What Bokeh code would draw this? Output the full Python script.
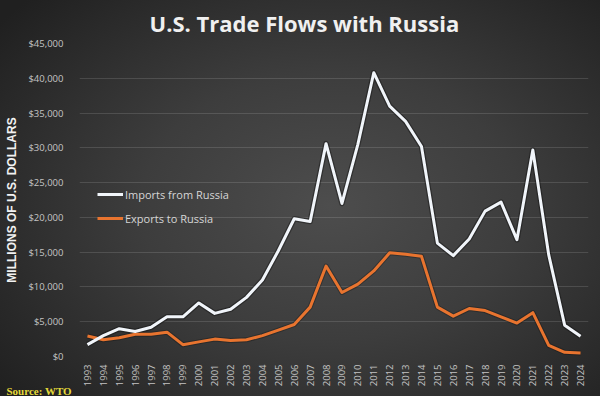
import math
from bokeh.plotting import figure
from bokeh.models import Legend, LegendItem, NumeralTickFormatter, FixedTicker, Range1d, Title
from bokeh.embed import file_html
from bokeh.resources import INLINE

years = ["1993", "1994", "1995", "1996", "1997", "1998", "1999", "2000", "2001", "2002",
         "2003", "2004", "2005", "2006", "2007", "2008", "2009", "2010", "2011", "2012",
         "2013", "2014", "2015", "2016", "2017", "2018", "2019", "2020", "2021", "2022",
         "2023", "2024"]
imports_from_russia = [1700, 3000, 4000, 3600, 4200, 5700, 5700, 7700, 6200, 6800,
                       8500, 11000, 15200, 19800, 19400, 30600, 22000, 30500, 40800, 36000,
                       33800, 30200, 16300, 14500, 16900, 20900, 22200, 16800, 29700, 14600,
                       4500, 2900]
exports_to_russia = [2950, 2400, 2700, 3200, 3200, 3500, 1700, 2100, 2500, 2300,
                     2400, 3000, 3800, 4600, 7100, 13000, 9200, 10400, 12300, 14900,
                     14700, 14400, 7100, 5800, 6900, 6600, 5700, 4800, 6300, 1600,
                     600, 500]
y_ticks = [0, 5000, 10000, 15000, 20000, 25000, 30000, 35000, 40000, 45000]

W, H = 600, 396
BL, BR, BT, BB = 79, 12, 42, 40

p = figure(x_range=years, y_range=Range1d(0, 45000), width=W, height=H,
           output_backend="svg", toolbar_location=None,
           min_border_left=BL, min_border_right=BR, min_border_top=BT, min_border_bottom=BB)
p.background_fill_alpha = 0
p.border_fill_alpha = 0
p.outline_line_color = None
p.x_range.range_padding = 0
p.styles = {"background": "radial-gradient(ellipse 70% 75% at 55% 52%, #4d4d4d 0%, #3d3d3d 45%, #282828 85%, #202020 100%)"}

p.title.text = "U.S. Trade Flows with Russia"
p.title.align = "left"
p.title.offset = 70
p.title.text_font = "Open Sans"
p.title.text_font_style = "bold"
p.title.text_font_size = "22px"
p.title.text_color = "#f0f0f0"
p.title.text_line_height = 0.7
p.title.standoff = 11

p.xgrid.grid_line_color = None
p.ygrid.grid_line_color = "white"
p.ygrid.grid_line_alpha = 0.13
p.ygrid.ticker = FixedTicker(ticks=y_ticks)

p.yaxis.ticker = FixedTicker(ticks=y_ticks)
p.yaxis.formatter = NumeralTickFormatter(format="$0,0")
for ax in (p.xaxis[0], p.yaxis[0]):
    ax.axis_line_color = None
    ax.major_tick_line_color = None
    ax.minor_tick_line_color = None
    ax.major_label_text_color = "#c4c4c4"
    ax.major_label_text_font = "Open Sans"
p.yaxis.major_label_text_font_size = "9.5px"
p.yaxis.major_label_standoff = 10
p.yaxis.axis_label = "MILLIONS OF U.S. DOLLARS"
p.yaxis.axis_label_text_font = "'Liberation Sans Narrow', 'Liberation Sans', Arial"
p.yaxis.axis_label_text_font_style = "bold"
p.yaxis.axis_label_text_font_size = "12px"
p.yaxis.axis_label_text_color = "#f2f2f2"
p.yaxis.axis_label_standoff = 6
p.xaxis.major_label_text_font_size = "9.5px"
p.xaxis.major_label_orientation = math.pi / 2
p.xaxis.major_label_standoff = 2

# soft shadows under the lines
p.line(years, imports_from_russia, line_color="#111111", line_alpha=0.45, line_width=5.5, line_join="round")
p.line(years, exports_to_russia, line_color="#111111", line_alpha=0.35, line_width=5, line_join="round")
r_exp = p.line(years, exports_to_russia, line_color="#e8742f", line_width=3, line_join="round")
r_imp = p.line(years, imports_from_russia, line_color="#f1f5fa", line_width=3, line_join="round")

legend = Legend(items=[LegendItem(label="Imports from Russia", renderers=[r_imp]),
                       LegendItem(label="Exports to Russia", renderers=[r_exp])],
                location=(18, 128), padding=0, margin=0, spacing=4,
                glyph_width=26, glyph_height=20, label_height=20, label_standoff=2,
                label_text_font="Open Sans", label_text_font_size="11px",
                label_text_color="#d6d6d6", background_fill_alpha=0, border_line_color=None)
p.add_layout(legend)

source = Title(text="Source: WTO", align="left", offset=-73, vertical_align="top",
               text_font="Liberation Serif", text_font_style="bold", text_line_height=0.8,
               text_font_size="11px", text_color="#e4d93a")
try:
    source.standoff = -10
except Exception:
    source.standoff = 0
p.add_layout(source, "below")

open("out.html", "w").write(file_html(p, INLINE))
